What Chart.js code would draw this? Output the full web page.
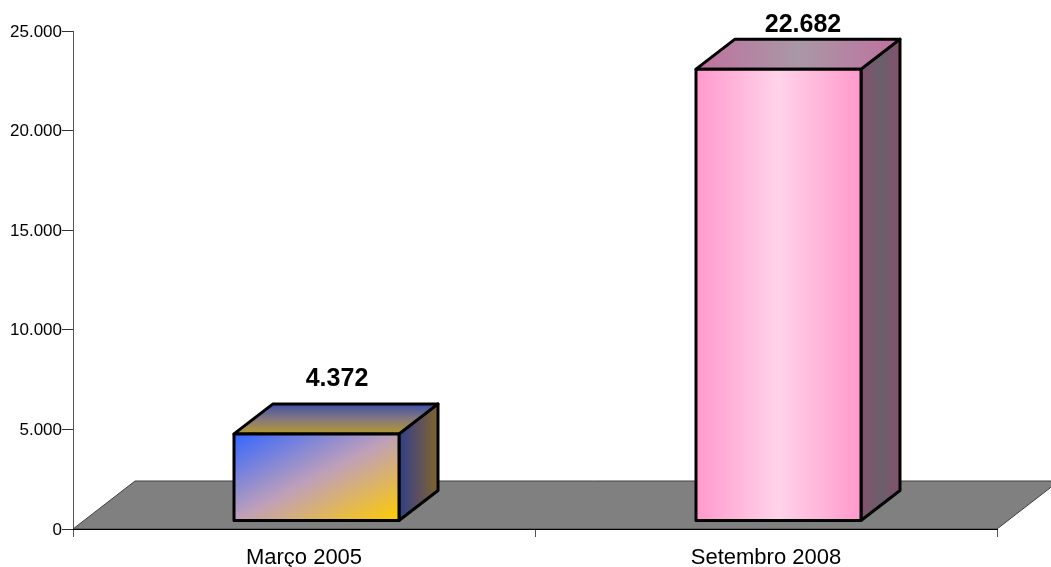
<!DOCTYPE html>
<html>
<head>
<meta charset="utf-8">
<script src="https://cdn.jsdelivr.net/npm/chart.js@4"></script>
<style>
  html, body { margin: 0; padding: 0; background: #fff; }
  #wrap { width: 1051px; height: 567px; }
  canvas { display: block; }
</style>
</head>
<body>
<div id="wrap"><canvas id="barras"></canvas></div>
<script>
const categories = ['Março 2005', 'Setembro 2008'];
const values = [4372, 22682];
const yTicks = [0, 5000, 10000, 15000, 20000, 25000];

const FONT = '"Liberation Sans", Arial, sans-serif';

// dots as thousand separators
const fmt = v => String(v).replace(/\B(?=(\d{3})+$)/g, '.');

// colour stops for each box: front, top and side faces
const faces = [
  {
    labelShift: 1,
    front: (c, x, y, w, h) => {
      // colour bands run along the box's other diagonal, corner to corner
      const k = w * h / (w * w + h * h);
      const cx = x + w / 2, cy = y + h / 2;
      return linear(c, cx - h * k, cy - w * k, cx + h * k, cy + w * k, ['#3366ff', '#c0a0b8', '#ffcc00']);
    },
    top: (c, x, y, w, h) => linear(c, x, y, x, y + h, ['#3d4fa8', '#85787f', '#b39a2c']),
    side: (c, x, y, w, h) => linear(c, x, y, x + w, y, ['#2f3f88', '#5c5060', '#7f6428'])
  },
  {
    labelShift: 5,
    front: (c, x, y, w, h) => linear(c, x, y, x + w, y, ['#ff99cc', '#ffd3e9', '#ff99cc']),
    top: (c, x, y, w, h) => linear(c, x, y, x + w, y, ['#c0709f', '#a998a6', '#c0709f']),
    side: (c, x, y, w, h) => linear(c, x, y, x + w, y, ['#85506e', '#69606a', '#85506e'])
  }
];

function linear(c, x0, y0, x1, y1, stops) {
  const g = c.createLinearGradient(x0, y0, x1, y1);
  stops.forEach((s, i) => g.addColorStop(i / (stops.length - 1), s));
  return g;
}

function poly(c, pts, fill, stroke, lw) {
  c.beginPath();
  pts.forEach((p, i) => i ? c.lineTo(p[0], p[1]) : c.moveTo(p[0], p[1]));
  c.closePath();
  c.fillStyle = fill;
  c.fill();
  if (stroke) {
    c.strokeStyle = stroke;
    c.lineWidth = lw;
    c.stroke();
  }
}

// the 3D look: floor under the plot, then a box on top of every bar
const box3d = {
  id: 'box3d',
  afterDatasetsDraw(chart) {
    const c = chart.ctx;
    const xs = chart.scales.x;
    const y0 = chart.scales.y.getPixelForValue(0);
    c.save();
    c.lineJoin = 'round';

    poly(c, [[xs.left, y0], [xs.left + 62, y0 - 48], [xs.right + 62, y0 - 48], [xs.right, y0]], '#808080', '#404040', 1);
    c.beginPath();
    c.moveTo(xs.left, y0 + 0.5);
    c.lineTo(xs.right, y0 + 0.5);
    c.strokeStyle = '#000';
    c.lineWidth = 1;
    c.stroke();

    const dx = 39, dy = 30;
    chart.getDatasetMeta(0).data.forEach((bar, i) => {
      const w = bar.width;
      const x = bar.x - w / 2 + 12.5;
      const top = bar.y - 8;
      const bottom = bar.base - 8;
      const h = bottom - top;
      const f = faces[i];
      poly(c, [[x + w, top], [x + w + dx, top - dy], [x + w + dx, bottom - dy], [x + w, bottom]],
        f.side(c, x + w, top, dx, h), '#000', 3);
      poly(c, [[x, top], [x + dx, top - dy], [x + w + dx, top - dy], [x + w, top]],
        f.top(c, x, top - dy, w + dx, dy), '#000', 3);
      poly(c, [[x, top], [x + w, top], [x + w, bottom], [x, bottom]],
        f.front(c, x, top, w, h), '#000', 3);

      c.fillStyle = '#000';
      c.font = 'bold 25px ' + FONT;
      c.textAlign = 'center';
      c.textBaseline = 'middle';
      c.fillText(fmt(values[i]), x + w / 2 + dx / 2 + f.labelShift, Math.max(top - dy - 25, 25));
    });
    c.restore();
  }
};

new Chart(document.getElementById('barras'), {
  type: 'bar',
  plugins: [box3d],
  data: {
    labels: categories,
    datasets: [{
      data: values,
      backgroundColor: 'transparent',
      borderWidth: 0,
      barThickness: 165
    }]
  },
  options: {
    responsive: true,
    maintainAspectRatio: false,
    animation: false,
    layout: { padding: { top: 31, right: 54, left: 0, bottom: 0 } },
    plugins: {
      legend: { display: false },
      title: { display: false },
      tooltip: { enabled: false }
    },
    scales: {
      x: {
        afterFit: s => { s.height = 38; },
        border: { color: '#000', width: 1 },
        grid: { drawOnChartArea: false, color: '#555', tickLength: 8 },
        ticks: { color: '#000', padding: 8, font: { family: FONT, size: 22 }, maxRotation: 0 }
      },
      y: {
        min: 0,
        max: 25000,
        afterFit: s => { s.width = 73; },
        afterBuildTicks: s => { s.ticks = yTicks.map(v => ({ value: v })); },
        border: { color: '#555', width: 1 },
        grid: { drawOnChartArea: false, color: '#333', tickLength: 11 },
        ticks: { color: '#000', padding: 0, labelOffset: 1, font: { family: FONT, size: 17 }, callback: v => fmt(v) }
      }
    }
  }
});
</script>
</body>
</html>
